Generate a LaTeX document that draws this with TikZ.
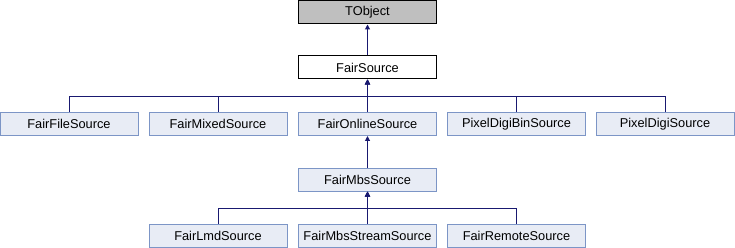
\documentclass[tikz,border=0pt]{standalone}
\usepackage{fontspec}
\setmainfont{Liberation Sans}
\usetikzlibrary{arrows.meta}

\definecolor{edgeblue}{HTML}{191970}
\definecolor{classfill}{HTML}{E8ECF5}
\definecolor{classline}{HTML}{7C95C6}
\definecolor{rootfill}{HTML}{BFBFBF}

\tikzset{
  cls/.style={draw=classline, fill=classfill, line width=1pt,
    minimum width=138pt, minimum height=23pt, inner sep=0pt,
    font=\fontsize{12.8}{14}\selectfont},
  base/.style={cls, draw=black, fill=white},
  root/.style={cls, draw=black, fill=rootfill},
  inherit/.style={draw=edgeblue, line width=1pt,
    -{Triangle[length=5pt,width=5pt]}}
}

\begin{document}
\begin{tikzpicture}[x=1pt,y=-1pt]
  \useasboundingbox (0,0) rectangle (735,248);
  \newcommand\colA{69}
  \newcommand\colB{218}
  \newcommand\colC{367.5}
  \newcommand\colD{516.5}
  \newcommand\colE{665}

  % class boxes, top to bottom
  \node[root] (tobject) at (\colC,12.5) {TObject};
  \node[base] (source) at (\colC,67.5) {FairSource};

  \node[cls] (file)   at (\colA,124) {FairFileSource};
  \node[cls] (mixed)  at (\colB,124) {FairMixedSource};
  \node[cls] (online) at (\colC,124) {FairOnlineSource};
  \node[cls] (binsrc) at (\colD,124) {PixelDigiBinSource};
  \node[cls] (digi)   at (\colE,124) {PixelDigiSource};

  \node[cls] (mbs) at (\colC,179.5) {FairMbsSource};

  \node[cls] (lmd)    at (\colB,235.5) {FairLmdSource};
  \node[cls] (stream) at (\colC,235.5) {FairMbsStreamSource};
  \node[cls] (remote) at (\colD,235.5) {FairRemoteSource};

  % bus lines
  \coordinate (busone) at (\colC,97);
  \coordinate (bustwo) at (\colC,208);

  % inheritance edges
  \draw[inherit] (source) -- (tobject);
  \draw[inherit] (file.north)   |- (busone) -- (source.south);
  \draw[inherit] (mixed.north)  |- (busone) -- (source.south);
  \draw[inherit] (online.north) -- (source.south);
  \draw[inherit] (binsrc.north) |- (busone) -- (source.south);
  \draw[inherit] (digi.north)   |- (busone) -- (source.south);
  \draw[inherit] (mbs) -- (online);
  \draw[inherit] (lmd.north)    |- (bustwo) -- (mbs.south);
  \draw[inherit] (stream.north) -- (mbs.south);
  \draw[inherit] (remote.north) |- (bustwo) -- (mbs.south);
\end{tikzpicture}
\end{document}
